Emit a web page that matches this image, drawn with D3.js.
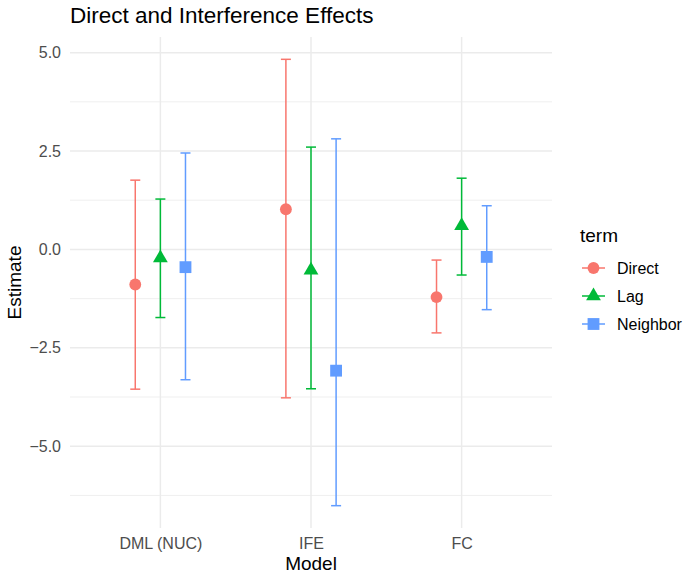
<!DOCTYPE html>
<html>
<head>
<meta charset="utf-8">
<script src="https://cdn.jsdelivr.net/npm/d3@7"></script>
<style>
  body { margin: 0; background: #fff; }
  text { font-family: "Liberation Sans", Arial, Helvetica, sans-serif; }
</style>
</head>
<body>
<div id="chart"></div>
<script>
// data
const models = ["DML (NUC)", "IFE", "FC"];
const terms = ["Direct", "Lag", "Neighbor"];
const termColors = ["#F8766D", "#00BA38", "#619CFF"];
const estimates = {
  "Direct":   [-0.89, 1.02, -1.21],
  "Lag":      [-0.22, -0.53, 0.60],
  "Neighbor": [-0.45, -3.08, -0.19]
};
const lowers = {
  "Direct":   [-3.55, -3.77, -2.12],
  "Lag":      [-1.73, -3.54, -0.65],
  "Neighbor": [-3.31, -6.51, -1.53]
};
const uppers = {
  "Direct":   [1.76, 4.83, -0.27],
  "Lag":      [1.28, 2.60, 1.81],
  "Neighbor": [2.45, 2.81, 1.11]
};
const yTicks = [-5.0, -2.5, 0.0, 2.5, 5.0];
const yMinor = [-6.25, -3.75, -1.25, 1.25, 3.75];

const svgWidth = 689, svgHeight = 577;
const margin = { top: 37, right: 137, bottom: 49, left: 70 };
const width = svgWidth - margin.left - margin.right;
const height = svgHeight - margin.top - margin.bottom;

const svg = d3.select("#chart").append("svg")
    .attr("width", svgWidth)
    .attr("height", svgHeight);
const g = svg.append("g")
    .attr("transform", `translate(${margin.left},${margin.top})`);

// rows, one per model/term
const rows = [];
models.forEach((m, i) => {
  terms.forEach((t, j) => {
    rows.push({ model: m, term: t, ti: j, est: estimates[t][i], lo: lowers[t][i], hi: uppers[t][i] });
  });
});

// y scale with ggplot 5% expansion
const yLo = d3.min(rows, d => d.lo), yHi = d3.max(rows, d => d.hi);
const pad = (yHi - yLo) * 0.05;
const y = d3.scaleLinear().domain([yLo - pad, yHi + pad]).range([height, 0]);

// discrete x, expand 0.6 each side
const x = d3.scalePoint().domain(models).range([0, width]).padding(0.6);
const step = x.step();
const dodge = d3.scalePoint().domain(terms).range([-step / 6, step / 6]);
const color = d3.scaleOrdinal().domain(terms).range(termColors);

// grid
g.selectAll(".minor").data(yMinor).enter().append("line")
    .attr("x1", 0).attr("x2", width)
    .attr("y1", d => y(d)).attr("y2", d => y(d))
    .attr("stroke", "#EBEBEB").attr("stroke-width", 0.8);
g.selectAll(".major").data(yTicks).enter().append("line")
    .attr("x1", 0).attr("x2", width)
    .attr("y1", d => y(d)).attr("y2", d => y(d))
    .attr("stroke", "#EBEBEB").attr("stroke-width", 1.5);
g.selectAll(".vmajor").data(models).enter().append("line")
    .attr("x1", d => x(d)).attr("x2", d => x(d))
    .attr("y1", 0).attr("y2", height)
    .attr("stroke", "#EBEBEB").attr("stroke-width", 1.5);

// axes (text only, like theme_minimal)
const yAxis = g.append("g").call(d3.axisLeft(y).tickValues(yTicks).tickFormat(d => d3.format(".1f")(d).replace("-", "\u2212")).tickSize(0).tickPadding(9));
yAxis.select(".domain").remove();
yAxis.selectAll("text").attr("fill", "#4D4D4D").attr("font-size", "16px")
    .attr("font-family", "Liberation Sans, Arial, sans-serif");

const xAxis = g.append("g").attr("transform", `translate(0,${height})`)
    .call(d3.axisBottom(x).tickSize(0).tickPadding(10));
xAxis.select(".domain").remove();
xAxis.selectAll("text").attr("fill", "#4D4D4D").attr("font-size", "16px")
    .attr("font-family", "Liberation Sans, Arial, sans-serif");

// error bars
const capHalf = 5;
const bars = g.selectAll(".eb").data(rows).enter().append("g")
    .attr("transform", d => `translate(${x(d.model) + dodge(d.term)},0)`);
bars.append("line")
    .attr("y1", d => y(d.lo)).attr("y2", d => y(d.hi))
    .attr("stroke", d => color(d.term)).attr("stroke-width", 1.5);
bars.append("line")
    .attr("x1", -capHalf).attr("x2", capHalf)
    .attr("y1", d => y(d.lo)).attr("y2", d => y(d.lo))
    .attr("stroke", d => color(d.term)).attr("stroke-width", 1.5);
bars.append("line")
    .attr("x1", -capHalf).attr("x2", capHalf)
    .attr("y1", d => y(d.hi)).attr("y2", d => y(d.hi))
    .attr("stroke", d => color(d.term)).attr("stroke-width", 1.5);

// point shapes
const shapes = { "Direct": d3.symbolCircle, "Lag": d3.symbolTriangle, "Neighbor": d3.symbolSquare };
const sizes = { "Direct": 110, "Lag": 95, "Neighbor": 140 };
bars.append("path")
    .attr("transform", d => `translate(0,${y(d.est)})`)
    .attr("d", d => d3.symbol().type(shapes[d.term]).size(sizes[d.term])())
    .attr("fill", d => color(d.term));

// title and axis labels
svg.append("text").text("Direct and Interference Effects")
    .attr("x", 70).attr("y", 23)
    .attr("font-size", "22.5px").attr("fill", "#000");
svg.append("text").text("Model")
    .attr("x", margin.left + width / 2).attr("y", 570)
    .attr("text-anchor", "middle").attr("font-size", "19px").attr("fill", "#000");
svg.append("text").text("Estimate")
    .attr("transform", `translate(21,${margin.top + height / 2}) rotate(-90)`)
    .attr("text-anchor", "middle").attr("font-size", "19px").attr("fill", "#000");

// legend
const legend = svg.append("g").attr("transform", "translate(579,0)");
legend.append("text").text("term").attr("x", 1).attr("y", 242)
    .attr("font-size", "19px").attr("fill", "#000");
const keys = legend.selectAll(".key").data(terms).enter().append("g")
    .attr("transform", (d, i) => `translate(0,${268 + i * 28})`);
keys.append("line").attr("x1", 3).attr("x2", 26)
    .attr("stroke", d => color(d)).attr("stroke-width", 1.5);
keys.append("path")
    .attr("transform", "translate(14.5,0)")
    .attr("d", d => d3.symbol().type(shapes[d]).size(sizes[d])())
    .attr("fill", d => color(d));
keys.append("text").text(d => d).attr("x", 38).attr("y", 6)
    .attr("font-size", "16px").attr("fill", "#000");
</script>
</body>
</html>
